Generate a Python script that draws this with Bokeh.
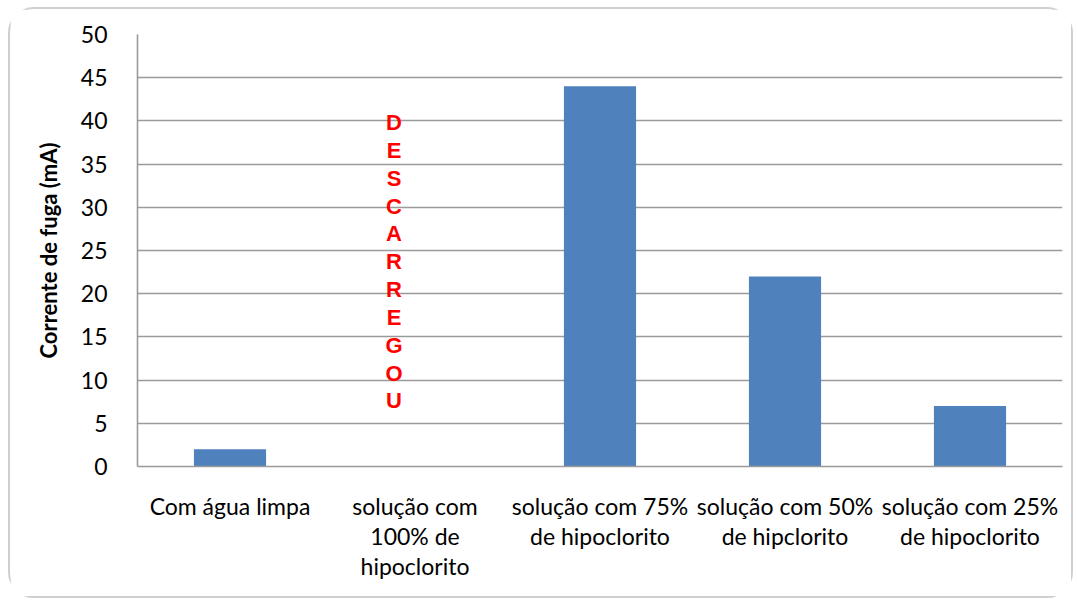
from bokeh.plotting import figure
from bokeh.embed import file_html
from bokeh.resources import INLINE
from bokeh.models import ColumnDataSource
from bokeh.core.properties import value

# Leakage current measured for each washing solution
categories = [
    "Com água limpa",
    "solução com\n100% de\nhipoclorito",
    "solução com 75%\nde hipoclorito",
    "solução com 50%\nde hipclorito",
    "solução com 25%\nde hipoclorito",
]
corrente_ma = [2, 0, 44, 22, 7]
y_ticks = [0, 5, 10, 15, 20, 25, 30, 35, 40, 45, 50]
aviso = "DESCARREGOU"

BAR_COLOR = "#4F81BD"
GRID_COLOR = "#9a9a9a"
FONT = "Lato"

p = figure(
    x_range=categories,
    y_range=(0, 50),
    width=1065,
    height=591,
    output_backend="svg",
    toolbar_location=None,
    min_border_left=127,
    min_border_right=13,
    min_border_top=25,
    min_border_bottom=134,
)
p.margin = (7, 0, 0, 8)
p.styles = {"border": "2px solid #cfcfcf", "border-radius": "26px"}

source = ColumnDataSource(dict(cat=categories, val=corrente_ma))
p.vbar(x="cat", top="val", width=0.39, source=source,
       fill_color=BAR_COLOR, line_color=None)

# Vertical warning for the sample that discharged
letters = list(aviso)
top_y, step = 39.8, 3.22
p.text(
    x=[categories[1]] * len(letters),
    y=[top_y - i * step for i in range(len(letters))],
    text=letters,
    x_offset=-21,
    text_color="#ff0000",
    text_font=value("Liberation Sans"),
    text_font_style="bold",
    text_font_size="22px",
    text_align="center",
    text_baseline="middle",
)

p.outline_line_color = None
p.background_fill_color = "white"
p.border_fill_color = "white"

p.xgrid.grid_line_color = None
p.ygrid.grid_line_color = GRID_COLOR
p.ygrid.grid_line_width = 1.6
p.yaxis.ticker = y_ticks

for ax in (p.xaxis[0], p.yaxis[0]):
    ax.axis_line_color = GRID_COLOR
    ax.axis_line_width = 1.6
    ax.major_tick_line_color = None
    ax.minor_tick_line_color = None
    ax.major_label_text_font = FONT
    ax.major_label_text_font_size = "23px"
    ax.major_label_text_color = "#000000"

p.xaxis.major_label_standoff = 19
p.xaxis.major_label_text_line_height = 1.08
p.yaxis.major_label_standoff = 24

p.yaxis.axis_label = "Corrente de fuga (mA)"
p.yaxis.axis_label_text_font = FONT
p.yaxis.axis_label_text_font_style = "bold"
p.yaxis.axis_label_text_font_size = "22px"
p.yaxis.axis_label_text_color = "#000000"
p.yaxis.axis_label_standoff = 16

open("out.html", "w").write(file_html(p, INLINE))
